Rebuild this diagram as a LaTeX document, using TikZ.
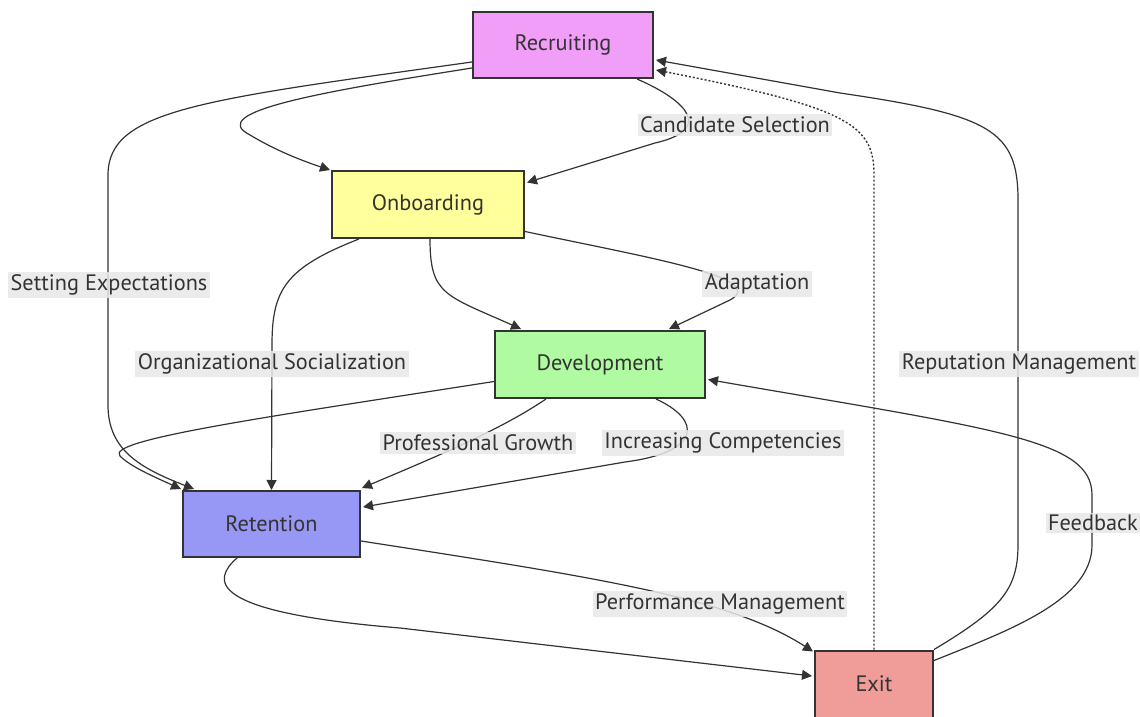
\documentclass[tikz,border=0pt]{standalone}
\usepackage{fontspec}
\setmainfont{PT Sans}
\usetikzlibrary{arrows.meta,calc}
\definecolor{cRec}{RGB}{240,158,248}
\definecolor{cOnb}{RGB}{255,255,155}
\definecolor{cDev}{RGB}{176,250,162}
\definecolor{cRet}{RGB}{151,151,245}
\definecolor{cExit}{RGB}{240,156,152}
\definecolor{cLine}{RGB}{51,51,51}
\definecolor{cLab}{RGB}{232,232,232}
\tikzset{
  box/.style={draw=cLine, line width=2pt, text=cLine, font=\fontsize{22.3}{26}\selectfont, inner sep=0pt},
  lab/.style={fill=cLab, fill opacity=0.85, text opacity=1, text=cLine, inner sep=2.5pt, font=\fontsize{22.3}{26}\selectfont},
  conn/.style={draw=cLine, line width=1.2pt, -{Triangle[length=10pt,width=10pt]}},
}
\begin{document}
\begin{tikzpicture}[x=1pt,y=-1pt]
\useasboundingbox (0,0) rectangle (1140,717);
% nodes
\node[box, fill=cRec, minimum width=180pt, minimum height=66pt] (rec) at (563,45) {Recruiting};
\node[box, fill=cOnb, minimum width=192pt, minimum height=67pt] (onb) at (428,204.5) {Onboarding};
\node[box, fill=cDev, minimum width=210pt, minimum height=67pt] (dev) at (600,364.5) {Development};
\node[box, fill=cRet, minimum width=177pt, minimum height=66pt] (ret) at (271.5,524) {Retention};
\node[box, fill=cExit, minimum width=118pt, minimum height=67pt] (exit) at (874,684) {Exit};

% connectors
% Recruiting -> Onboarding
\draw[conn] ($(rec.west)+(0,23)$) .. controls (320,92) and (205,112) .. (250,135) .. controls (275,150) and (300,160) .. ($(onb.north west)+(-1,0)$);
% Candidate Selection
\draw[conn] ($(rec.south)+(74,0)$) .. controls (690,102) and (712,130) .. (655,143) -- ($(onb.east)+(2,-22)$);
% Setting Expectations
\draw[conn] ($(rec.west)+(0,17)$) .. controls (200,100) and (108,110) .. (108,175) -- (108,405) .. controls (108,450) and (140,468) .. ($(ret.north west)+(12,-1)$);
% Organizational Socialization
\draw[conn] ($(onb.south west)+(28,0)$) .. controls (285,268) and (272,290) .. (272,345) -- (ret.north);
% Onboarding -> Development
\draw[conn] ($(onb.south)+(2,0)$) .. controls (430,295) and (445,295) .. ($(dev.north west)+(27,-1)$);
% Adaptation
\draw[conn] ($(onb.east)+(0,27)$) .. controls (650,258) and (770,278) .. (730,300) -- ($(dev.north east)+(-37,-1)$);
% Development -> Retention
\draw[conn] ($(dev.west)+(0,17)$) .. controls (260,418) and (105,440) .. (120,456) .. controls (130,466) and (150,475) .. ($(ret.north west)+(-1,-1)$);
% Professional Growth
\draw[conn] ($(dev.south west)+(52,0)$) .. controls (500,430) and (440,455) .. ($(ret.north east)+(1,-2)$);
% Increasing Competencies
\draw[conn] ($(dev.south east)+(-50,0)$) .. controls (702,420) and (702,452) .. (625,462) -- ($(ret.east)+(2,-17)$);
% Performance Management
\draw[conn] ($(ret.east)+(0,17)$) .. controls (600,578) and (730,598) .. ($(exit.north west)+(-1,2)$);
% Retention -> Exit
\draw[conn] ($(ret.south west)+(55,0)$) .. controls (212,580) and (205,612) .. (400,628) -- ($(exit.west)+(-2,-8)$);
% Exit -> Recruiting dotted
\draw[conn, dash pattern=on 2pt off 2pt, line width=1.4pt] (exit.north) -- (874,175) .. controls (874,125) and (850,108) .. ($(rec.east)+(2,25)$);
% Reputation Management
\draw[conn] (exit.north east) .. controls (1000,610) and (1018,590) .. (1018,545) -- (1018,200) .. controls (1018,130) and (990,115) .. (840,93) -- ($(rec.east)+(2,15)$);
% Feedback
\draw[conn] ($(exit.north east)+(0,11)$) .. controls (1010,630) and (1092,600) .. (1092,545) -- (1092,495) .. controls (1092,440) and (1000,430) .. ($(dev.east)+(2,15)$);

% labels
\node[lab] (lCand) at (735,125) {Candidate Selection};
\node[lab] (lSet) at (109,285) {Setting Expectations};
\node[lab] (lOrg) at (272,364) {Organizational Socialization};
\node[lab] (lAdap) at (757,284) {Adaptation};
\node[lab] (lProf) at (478,443) {Professional Growth};
\node[lab] (lInc) at (723,443) {Increasing Competencies};
\node[lab] (lPerf) at (720,604) {Performance Management};
\node[lab] (lRep) at (1019,364) {Reputation Management};
\node[lab] (lFeed) at (1093,523) {Feedback};
\end{tikzpicture}
\end{document}
